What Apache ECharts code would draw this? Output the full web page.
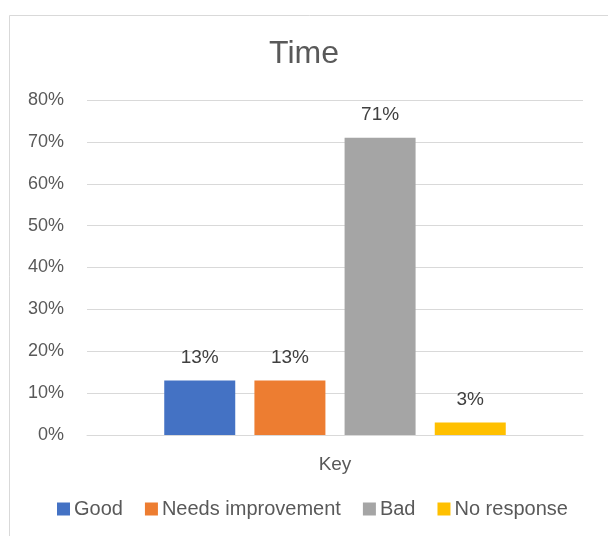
<!DOCTYPE html>
<html>
<head>
	<meta charset="utf-8">
	<title>Time</title>
	<script src="https://cdn.jsdelivr.net/npm/echarts@6/dist/echarts.min.js"></script>
	<style>
		html,body{margin:0;padding:0;background:#fff;}
		#chart{width:608px;height:536px;}
	</style>
</head>
<body>
	<div id="chart"></div>
<script type="text/javascript">
	var categories=['Key'];
	var seriesNames=['Good','Needs improvement','Bad','No response'];
	var seriesValues=[[13],[13],[71],[3]];
	var seriesColors=['#4472C4','#ED7D31','#A5A5A5','#FFC000'];
	var yTicks=[0,10,20,30,40,50,60,70,80];

	var myChart=echarts.init(document.getElementById('chart'));
	var font='"Liberation Sans", "Noto Sans", sans-serif';

	let series=[];
	for(let i in seriesNames){
		series.push({
			name:seriesNames[i],
			type:'bar',
			data:seriesValues[i],
			barWidth:71,
			barGap:'27%',
			itemStyle:{color:seriesColors[i]},
			label:{
				show:true,
				position:'top',
				distance:13,
				formatter:'{c}%',
				color:'#404040',
				fontSize:19,
				fontFamily:font
			}
		});
	}

	var option={
		animation:false,
		backgroundColor:'#fff',
		graphic:[{
			type:'rect',
			shape:{x:9.5,y:15.5,width:700,height:600},
			style:{fill:'none',stroke:'#d9d9d9',lineWidth:1},
			silent:true
		}],
		title:{
			text:'Time',
			left:'center',
			top:33,
			textStyle:{color:'#595959',fontSize:32,fontWeight:'normal',fontFamily:font}
		},
		legend:{
			data:seriesNames,
			bottom:12,
			left:52,
			itemWidth:13,
			itemHeight:13,
			itemGap:22,
			icon:'rect',
			textStyle:{color:'#595959',fontSize:20,fontFamily:font,padding:[0,0,0,-1]}
		},
		grid:{left:87,right:25,top:100,bottom:101},
		xAxis:{
			type:'category',
			data:categories,
			axisTick:{show:false},
			axisLine:{lineStyle:{color:'#d9d9d9'}},
			axisLabel:{color:'#595959',fontSize:19,margin:20,fontFamily:font}
		},
		yAxis:{
			type:'value',
			min:yTicks[0],
			max:yTicks[yTicks.length-1],
			interval:10,
			axisLine:{show:false},
			axisTick:{show:false},
			splitLine:{lineStyle:{color:'#d9d9d9'}},
			axisLabel:{color:'#595959',fontSize:18,margin:23,formatter:'{value}%',fontFamily:font}
		},
		series:series
	};
	myChart.setOption(option);
</script>
</body>
</html>
